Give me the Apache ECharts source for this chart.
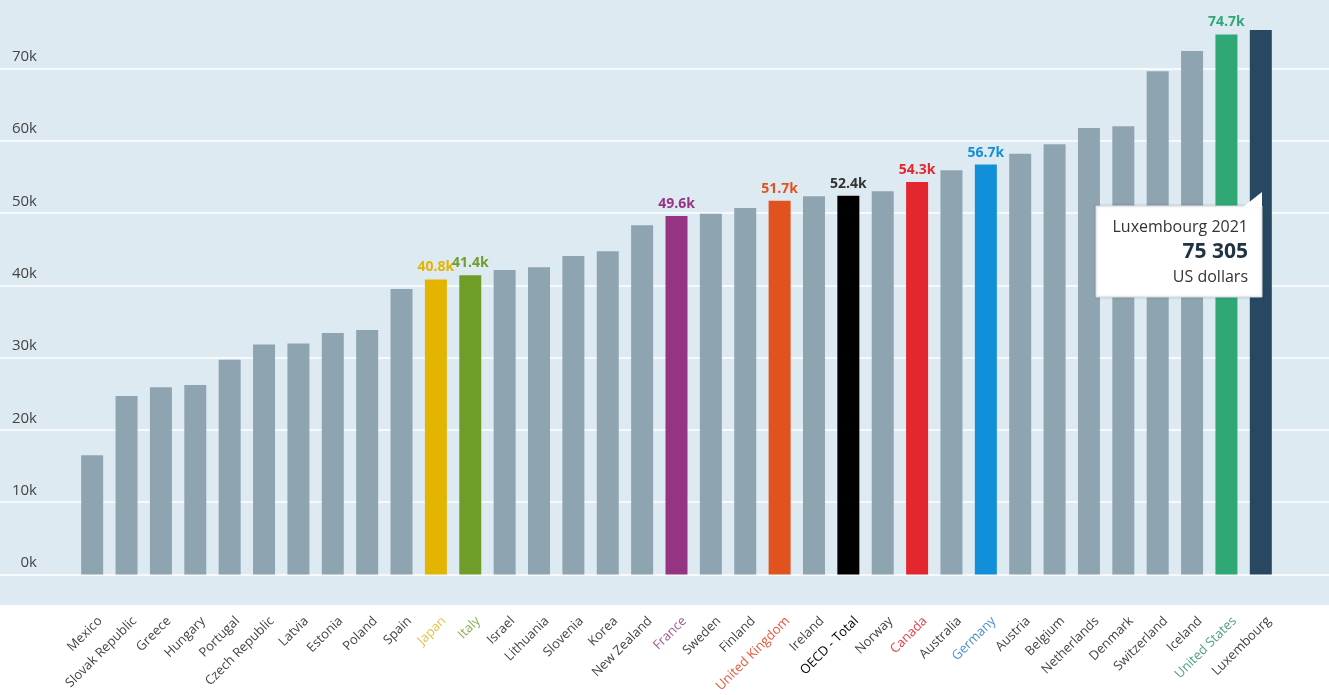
<!DOCTYPE html>
<html>
<head>
<meta charset="utf-8">
<script src="https://cdn.jsdelivr.net/npm/echarts@6/dist/echarts.min.js"></script>
<style>
  html, body { margin: 0; padding: 0; background: #fff; }
  #main { width: 1329px; height: 695px; }
</style>
</head>
<body>
<div id="main"></div>
<script>
// GDP per capita, US dollars, 2021
var countries = ['Mexico','Slovak Republic','Greece','Hungary','Portugal','Czech Republic','Latvia','Estonia','Poland','Spain',
  'Japan','Italy','Israel','Lithuania','Slovenia','Korea','New Zealand','France','Sweden','Finland',
  'United Kingdom','Ireland','OECD - Total','Norway','Canada','Australia','Germany','Austria','Belgium','Netherlands',
  'Denmark','Switzerland','Iceland','United States','Luxembourg'];
var values = [16500, 24700, 25900, 26200, 29700, 31800, 31950, 33400, 33800, 39500,
  40800, 41400, 42100, 42500, 44050, 44700, 48300, 49600, 49900, 50700,
  51700, 52300, 52400, 53000, 54300, 55900, 56700, 58200, 59500, 61750,
  62000, 69600, 72400, 74700, 75305];
var yTicks = [0, 10000, 20000, 30000, 40000, 50000, 60000, 70000];

// highlighted countries: bar colour, value label colour, axis label colour
var barColor = {
  'Japan': '#e3b400', 'Italy': '#6e9e27', 'France': '#963484', 'United Kingdom': '#e0531f',
  'OECD - Total': '#000000', 'Canada': '#e4262f', 'Germany': '#128fd9', 'United States': '#2fa876',
  'Luxembourg': '#284760'
};
var valColor = { 'OECD - Total': '#333333' };
var nameColor = {
  'Japan': '#e6bf4a', 'Italy': '#8aae55', 'France': '#a45a98', 'United Kingdom': '#e5583c',
  'OECD - Total': '#000000', 'Canada': '#e3414a', 'Germany': '#4b8fcf', 'United States': '#4fa07c'
};
var noLabel = ['Luxembourg'];
var tipName = 'Luxembourg';
var tipYear = '2021';

var FONT = '"Open Sans", "Noto Sans", sans-serif';

var data = [];
for (var i = 0; i < countries.length; i++) {
  var c = countries[i];
  var item = { value: values[i], itemStyle: { color: barColor[c] || '#8fa4b1' } };
  if (barColor[c] && noLabel.indexOf(c) < 0) {
    item.label = {
      show: true, position: 'top', distance: 5,
      color: valColor[c] || barColor[c], fontWeight: 'bold', fontSize: 14, fontFamily: FONT,
      formatter: function (p) { return (p.value / 1000).toFixed(1) + 'k'; }
    };
  }
  data.push(item);
}

var tipVal = values[countries.indexOf(tipName)];
var tipText = String(tipVal).replace(/\B(?=(\d{3})+(?!\d))/g, ' ');

var nameRich = { n: { color: '#444444', fontSize: 13, fontFamily: FONT } };
for (var k in nameColor) nameRich['c' + countries.indexOf(k)] = { color: nameColor[k], fontSize: 13, fontFamily: FONT };

var YMAX = 79460;

var myChart = echarts.init(document.getElementById('main'));
myChart.setOption({
  animation: false,
  backgroundColor: '#ffffff',
  graphic: [
    { type: 'rect', z: -100, silent: true, shape: { x: 0, y: 0, width: 1329, height: 605 }, style: { fill: '#deeaf2' } },
    { type: 'rect', z: 100, shape: { x: 1096, y: 206, width: 166, height: 91 },
      style: { fill: '#ffffff', stroke: '#d6dde2', lineWidth: 1, shadowBlur: 3, shadowColor: 'rgba(0,0,0,0.15)' } },
    { type: 'polygon', z: 101, shape: { points: [[1243, 207], [1262, 192], [1262, 207]] }, style: { fill: '#ffffff' } },
    { type: 'text', z: 102, style: { x: 1248, y: 227, text: tipName + ' ' + tipYear, align: 'right', verticalAlign: 'middle',
      fill: '#333333', font: '16px ' + FONT } },
    { type: 'text', z: 102, style: { x: 1248, y: 252, text: tipText, align: 'right', verticalAlign: 'middle',
      fill: '#1f3443', font: 'bold 21px ' + FONT } },
    { type: 'text', z: 102, style: { x: 1248, y: 277, text: 'US dollars', align: 'right', verticalAlign: 'middle',
      fill: '#333333', font: '16px ' + FONT } }
  ],
  grid: [
    { left: 0, right: 0, top: 0, bottom: 120.5 },
    { left: 75, right: 51, top: 0, bottom: 120.5 },
    { left: 83, right: 43, top: 0, bottom: 120.5 }
  ],
  xAxis: [
    { gridIndex: 0, type: 'category', data: [''], show: false },
    { gridIndex: 1, type: 'category', data: countries,
      axisLine: { show: false }, axisTick: { show: false }, axisLabel: { show: false } },
    { gridIndex: 2, type: 'category', data: countries,
      axisLine: { show: false }, axisTick: { show: false },
      axisLabel: {
        interval: 0, rotate: 45, margin: 49, fontSize: 13, fontFamily: FONT,
        formatter: function (v) { return '{' + (nameColor[v] ? 'c' + countries.indexOf(v) : 'n') + '|' + v + '}'; },
        rich: nameRich
      } }
  ],
  yAxis: [
    { gridIndex: 0, type: 'value', min: 0, max: YMAX, interval: 10000,
      axisLine: { show: false }, axisTick: { show: false },
      splitLine: { showMaxLine: false, lineStyle: { color: '#ffffff', width: 1.5 } },
      axisLabel: {
        inside: true, margin: 37, align: 'right', verticalAlign: 'bottom', padding: [0, 0, 4, 0],
        color: '#444444', fontSize: 15, fontFamily: FONT,
        formatter: function (v) { return yTicks.indexOf(v) >= 0 ? (v / 1000) + 'k' : ''; }
      } },
    { gridIndex: 1, type: 'value', min: 0, max: YMAX, interval: 10000, show: false, splitLine: { show: false } },
    { gridIndex: 2, type: 'value', min: 0, max: YMAX, interval: 10000, show: false, splitLine: { show: false } }
  ],
  series: [{
    type: 'bar', xAxisIndex: 1, yAxisIndex: 1, barWidth: 22, data: data, z: 5
  }]
});
</script>
</body>
</html>
